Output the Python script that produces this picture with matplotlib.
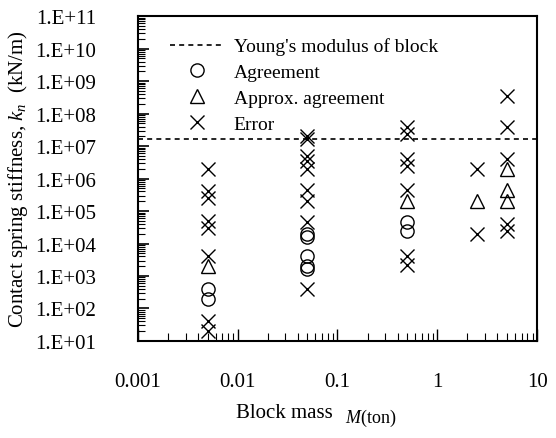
import matplotlib
matplotlib.use("Agg")
import matplotlib.pyplot as plt
import numpy as np

plt.rcParams['font.family'] = ['Liberation Serif', 'DejaVu Serif']
plt.rcParams['mathtext.fontset'] = 'custom'
plt.rcParams['mathtext.rm'] = 'Liberation Serif'
plt.rcParams['mathtext.it'] = 'Liberation Serif:italic'

# block mass (ton) and contact spring stiffness kn (kN/m)
agree_mass = [0.005, 0.005, 0.05, 0.05, 0.05, 0.05, 0.05, 0.5, 0.5]
agree_kn = [4e2, 2e2, 2e4, 1.6e4, 4e3, 2e3, 1.7e3, 4.5e4, 2.5e4]

approx_mass = [0.005, 0.5, 2.5, 5, 5, 5]
approx_kn = [2e3, 2e5, 2e5, 2e6, 4.5e5, 2e5]

error_mass = [0.005] * 8 + [0.05] * 9 + [0.5] * 7 + [2.5] * 2 + [5] * 5
error_kn = [2e6, 4e5, 2.5e5, 5e4, 3e4, 4e3, 4e1, 2e1,
            2e7, 1.6e7, 5e6, 3.5e6, 2e6, 4.5e5, 2e5, 4.5e4, 4e2,
            4e7, 2.3e7, 4e6, 2.5e6, 4.5e5, 4e3, 2.2e3,
            2e6, 2e4,
            3.5e8, 4e7, 4e6, 4e4, 2.5e4]

young_kn = 1.6e7

fig = plt.figure(figsize=(5.56, 4.39), dpi=100)
ax = fig.add_axes([0.248, 0.221, 0.718, 0.740])

ax.axhline(young_kn, color='black', linestyle=(0, (3, 2.5)), linewidth=1.2,
           label="Young's modulus of block")
ax.plot(agree_mass, agree_kn, linestyle='none', marker='o', ms=9.5,
        mfc='none', mec='black', mew=1.0, label='Agreement')
ax.plot(approx_mass, approx_kn, linestyle='none', marker='^', ms=10,
        mfc='none', mec='black', mew=1.0, label='Approx. agreement')
ax.plot(error_mass, error_kn, linestyle='none', marker='x', ms=10,
        color='black', mew=1.0, label='Error')

ax.set_xscale('log')
ax.set_yscale('log')
ax.set_xlim(0.001, 10)
ax.set_ylim(1e1, 1e11)

ax.set_yticks([10.0 ** k for k in range(1, 12)])
ax.set_yticklabels(['1.E+%02d' % k for k in range(1, 12)])
ax.yaxis.set_minor_locator(matplotlib.ticker.LogLocator(base=10, subs=np.arange(2, 10), numticks=20))
ax.yaxis.set_minor_formatter(matplotlib.ticker.NullFormatter())
ax.set_xticks([0.001, 0.01, 0.1, 1, 10])
ax.set_xticklabels(['0.001', '0.01', '0.1', '1', '10'])
ax.xaxis.set_minor_locator(matplotlib.ticker.LogLocator(base=10, subs=np.arange(2, 10), numticks=20))
ax.xaxis.set_minor_formatter(matplotlib.ticker.NullFormatter())

ax.tick_params(axis='both', which='both', direction='in', top=False, right=False, labelsize=15)
ax.tick_params(axis='y', which='major', length=8, width=1.2, pad=30)
ax.tick_params(axis='y', which='minor', length=5, width=0.8)
ax.tick_params(axis='x', which='major', length=9, width=1.0, pad=22)
ax.tick_params(axis='x', which='minor', length=6, width=0.8)

for s in ax.spines.values():
    s.set_linewidth(1.5)
    s.set_color('black')

ax.set_ylabel(r"Contact spring stiffness, $k_n$  (kN/m)", fontsize=15, labelpad=4)
fig.text(0.512, 0.057, 'Block mass', fontsize=15, ha='center', va='center')
fig.text(0.621, 0.046, r'$M$(ton)', fontsize=13, ha='left', va='center')

leg = ax.legend(loc='upper left', frameon=False, fontsize=14, handlelength=2.8,
                handletextpad=0.5, labelspacing=0.42, borderaxespad=0.2,
                bbox_to_anchor=(0.05, 0.97))

fig.savefig('out.png', dpi=100)
